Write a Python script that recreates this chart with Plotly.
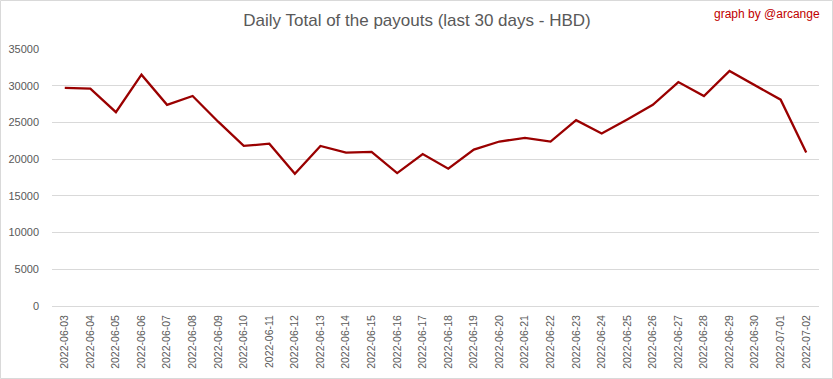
import plotly.graph_objects as go

dates = ["2022-06-03","2022-06-04","2022-06-05","2022-06-06","2022-06-07","2022-06-08",
         "2022-06-09","2022-06-10","2022-06-11","2022-06-12","2022-06-13","2022-06-14",
         "2022-06-15","2022-06-16","2022-06-17","2022-06-18","2022-06-19","2022-06-20",
         "2022-06-21","2022-06-22","2022-06-23","2022-06-24","2022-06-25","2022-06-26",
         "2022-06-27","2022-06-28","2022-06-29","2022-06-30","2022-07-01","2022-07-02"]
payouts = [29700, 29600, 26400, 31500, 27400, 28600,
           25100, 21800, 22100, 18000, 21800, 20900,
           21000, 18100, 20700, 18700, 21300, 22400,
           22900, 22400, 25300, 23500, 25400, 27400,
           30500, 28600, 32000, 30100, 28100, 20900]
y_ticks = [0, 5000, 10000, 15000, 20000, 25000, 30000, 35000]
y_tick_labels = ["0", "5000", "10000", "15000", "20000", "25000", "30000", "35000"]

title_text = "Daily Total of the payouts (last 30 days - HBD)"
credit_text = "graph by @arcange"

L, R, T, B = 52, 14, 49, 73
W, H = 833, 379
PW, PH = W - L - R, H - T - B

fig = go.Figure()
fig.add_trace(go.Scatter(x=dates, y=payouts, mode="lines",
                         line=dict(color="#9a0000", width=2.3), showlegend=False,
                         hoverinfo="skip"))

fig.update_layout(
    width=W, height=H,
    margin=dict(l=L, r=R, t=T, b=B, autoexpand=False),
    paper_bgcolor="white", plot_bgcolor="white",
    font=dict(family="Liberation Sans, Arial, sans-serif", color="#595959"),
    title=dict(text=title_text, x=417 / W, xanchor="center", xref="container",
               y=1 - 20 / H, yanchor="middle",
               font=dict(size=17, color="#595959")),
    xaxis=dict(type="category", tickangle=-90, tickfont=dict(size=10.5, color="#595959"),
               showgrid=False, showline=False, zeroline=False, ticks="",
               range=[-0.5, len(dates) - 0.5], automargin=False,
               ticklabelstandoff=6),
    yaxis=dict(range=[0, 35000], tickvals=y_ticks, ticktext=y_tick_labels,
               tickfont=dict(size=11, color="#595959"),
               showgrid=True, gridcolor="#d9d9d9", gridwidth=1,
               zeroline=True, zerolinecolor="#d9d9d9", zerolinewidth=1,
               showline=False, ticks="", automargin=False,
               ticklabelstandoff=12),
    annotations=[dict(text=credit_text, xref="paper", yref="paper",
                      x=(822 - L) / PW, y=(H - B - 14) / PH,
                      xanchor="right", yanchor="middle", showarrow=False,
                      font=dict(size=12, color="#c00000"))],
)
fig.add_shape(type="rect", xref="paper", yref="paper",
              x0=(0.5 - L) / PW, x1=(W - 0.5 - L) / PW,
              y0=((H - B) - (H - 0.5)) / PH, y1=((H - B) - 0.5) / PH,
              line=dict(color="#d9d9d9", width=1))
fig.write_html("out.html", config={"displayModeBar": False},
               post_script="document.body.style.margin='0';document.body.style.overflow='hidden';")
